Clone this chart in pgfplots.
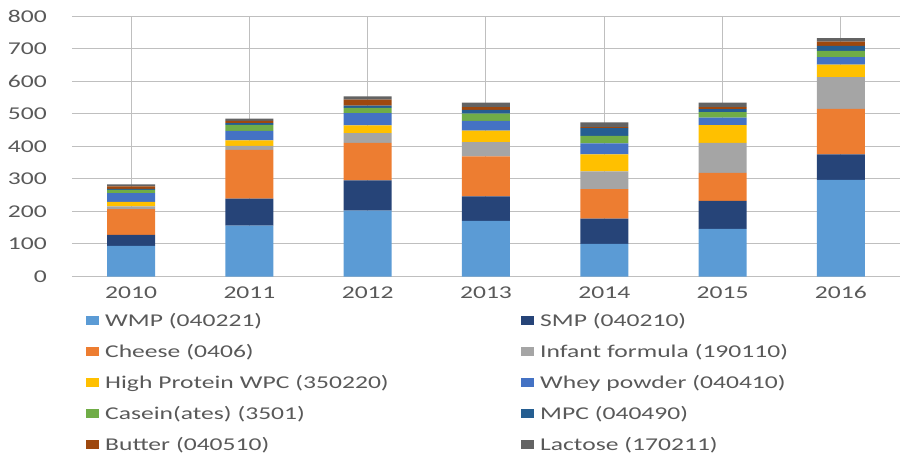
\documentclass[border=0pt]{standalone}
\usepackage{fontspec}
\setmainfont{Carlito}[FakeStretch=1.42]
\usepackage{pgfplots}
\usepackage{pgfplotstable}
\pgfplotsset{compat=1.18}
\definecolor{cWMP}{HTML}{5B9BD5}
\definecolor{cSMP}{HTML}{264478}
\definecolor{cChe}{HTML}{ED7D31}
\definecolor{cInf}{HTML}{A5A5A5}
\definecolor{cHP}{HTML}{FFC000}
\definecolor{cWhey}{HTML}{4472C4}
\definecolor{cCas}{HTML}{70AD47}
\definecolor{cMPC}{HTML}{255E91}
\definecolor{cBut}{HTML}{9E480E}
\definecolor{cLac}{HTML}{636363}
\definecolor{txt}{HTML}{595959}
\definecolor{grid}{HTML}{D9D9D9}
\pgfplotstableread{
x WMP SMP Che Inf HP Whey Cas MPC But Lac
0 94  34 79  8  14 27 10 3  8  6
1 156 83 150 12 17 29 19 5  7  7
2 202 93 115 30 24 38 16 7  18 10
3 171 75 123 44 35 30 22 12 8  14
4 100 78 90  55 52 34 23 24 3  14
5 146 86 86  92 55 23 17 9  6  14
6 297 78 140 97 39 23 19 15 13 11
}\data
\pgfplotsset{sq/.style={legend image code/.code={\fill[##1] (0pt,-4.5pt) rectangle (13pt,4.5pt);}}}
\begin{document}
\fontsize{18pt}{21pt}\selectfont
\begin{tikzpicture}
\path[use as bounding box] (-72pt,-176.5pt) rectangle (828pt,276.5pt);
\begin{axis}[
  at={(0pt,0pt)}, anchor=south west,
  scale only axis, width=828pt, height=260.5pt,
  ybar stacked, bar width=48pt,
  xmin=-0.5, xmax=6.5, ymin=0, ymax=800,
  xtick=data, xticklabels={2010,2011,2012,2013,2014,2015,2016},
  ytick={0,100,...,800},
  axis line style={draw=none},
  tick style={draw=none},
  ymajorgrids, grid style={grid, line width=1pt},
  ticklabel style={font=\fontsize{18pt}{21pt}\selectfont, text=txt},
  /pgf/number format/assume math mode=true,
  yticklabel style={xshift=-19pt},
  xticklabel style={yshift=-4pt},
  legend columns=2,
  legend cell align=left,
  legend style={at={(0.0169,-0.110)}, anchor=north west, draw=none, fill=none,
    inner sep=0pt, column sep=6pt, row sep=0pt,
    nodes={text width=410pt, align=left, inner sep=0pt, minimum height=31pt, text=txt,
      font=\fontsize{18pt}{21pt}\selectfont}},
]
\addplot[sq, fill=cWMP, draw=none] table[x=x,y=WMP]{\data};
\addplot[sq, fill=cSMP, draw=none] table[x=x,y=SMP]{\data};
\addplot[sq, fill=cChe, draw=none] table[x=x,y=Che]{\data};
\addplot[sq, fill=cInf, draw=none] table[x=x,y=Inf]{\data};
\addplot[sq, fill=cHP, draw=none] table[x=x,y=HP]{\data};
\addplot[sq, fill=cWhey, draw=none] table[x=x,y=Whey]{\data};
\addplot[sq, fill=cCas, draw=none] table[x=x,y=Cas]{\data};
\addplot[sq, fill=cMPC, draw=none] table[x=x,y=MPC]{\data};
\addplot[sq, fill=cBut, draw=none] table[x=x,y=But]{\data};
\addplot[sq, fill=cLac, draw=none] table[x=x,y=Lac]{\data};
\legend{WMP (040221), SMP (040210), Cheese (0406), Infant formula (190110),
  High Protein WPC (350220), Whey powder (040410), Casein(ates) (3501),
  MPC (040490), Butter (040510), Lactose (170211)}
\end{axis}
\end{tikzpicture}
\end{document}
